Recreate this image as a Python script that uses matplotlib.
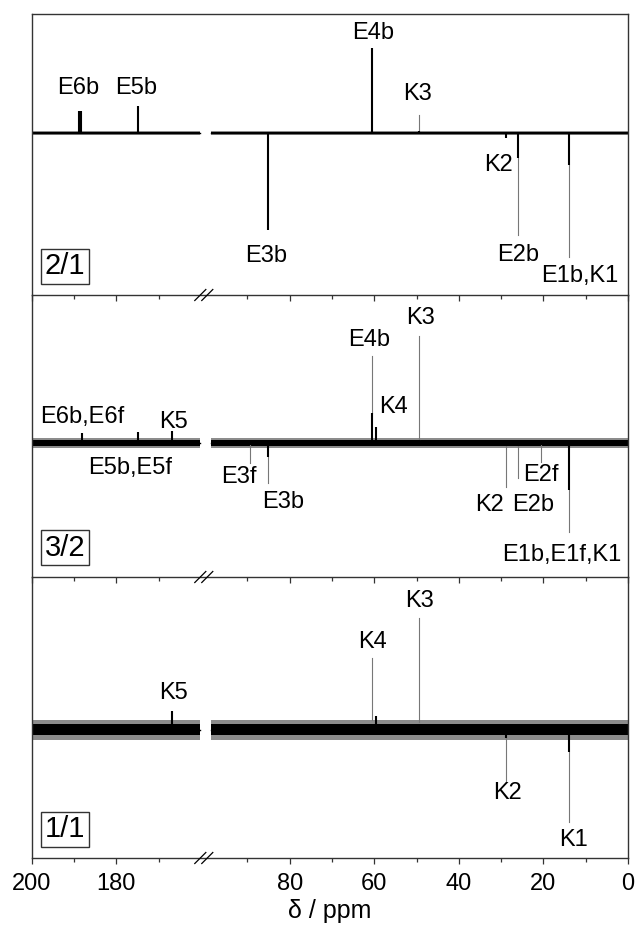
import numpy as np
import matplotlib.pyplot as plt
from matplotlib.ticker import FixedLocator, NullFormatter

plt.rcParams['font.family'] = ['Liberation Sans', 'DejaVu Sans']

# chemical shift axis is broken: 200-160 ppm on the left, 100-0 ppm on the right
left_range = (200.0, 160.2)
right_range = (98.7, 0.0)
major_ticks = [200, 180, 80, 60, 40, 20, 0]
minor_ticks = [190, 170, 90, 70, 50, 30, 10]

# baseline noise (half width of dense band, half width of spikes)
noise_21 = (1.0, 2.0)
noise_32 = (2.8, 5.0)
noise_11 = (5.5, 10.0)

# ---- 2/1 ----
peaks_21_ppm = [188.8, 188.3, 174.8, 85.1, 60.5, 49.4, 28.9, 25.9, 13.9]
peaks_21_int = [22, 22, 27, -97, 85, 2, -5, -25, -32]
leaders_21 = [(49.4, 2, 18), (25.9, -25, -102), (13.9, -32, -124)]
labels_21_text = ['E6b', 'E5b', 'E3b', 'E4b', 'K3', 'K2', 'E2b', 'E1b,K1']
labels_21_ppm = [189.0, 175.2, 85.5, 60.2, 49.8, 30.7, 26.0, 11.3]
labels_21_y = [45, 45, -123, 100, 39, -32, -122, -143]

# ---- 3/2 ----
peaks_32_ppm = [188.1, 174.8, 166.8, 89.4, 85.1, 60.5, 59.5, 49.4, 28.9, 25.9, 20.5, 13.9]
peaks_32_int = [10, 11, 12, -2, -14, 30, 16, 3, -3, -3, -2, -47]
leaders_32 = [(89.4, -2, -20), (85.1, -14, -40), (60.5, 30, 87), (49.4, 3, 107),
              (28.9, -3, -44), (25.9, -3, -35), (20.5, -2, -19), (13.9, -47, -89)]
labels_32_text = ['E6b,E6f', 'E5b,E5f', 'K5', 'E3f', 'E3b', 'E4b', 'K4', 'K3',
                  'K2', 'E2b', 'E2f', 'E1b,E1f,K1']
labels_32_ppm = [188.1, 176.7, 166.5, 91.9, 81.6, 61.2, 55.5, 49.0, 32.8, 22.4, 20.6, 15.7]
labels_32_y = [26, -25, 21, -34, -59, 103, 36, 125, -62, -62, -32, -112]

# ---- 1/1 ----
peaks_11_ppm = [166.8, 59.5, 28.9, 13.9]
peaks_11_int = [19, 14, -8, -22]
leaders_11 = [(60.5, 10, 72), (49.4, 8, 112), (28.9, -8, -52), (13.9, -22, -92)]
labels_11_text = ['K5', 'K4', 'K3', 'K2', 'K1']
labels_11_ppm = [166.5, 60.5, 49.4, 28.6, 13.0]
labels_11_y = [37, 88, 129, -63, -110]


# squeeze out 160-100 ppm, leaving a one-unit gap at the break
def fwd(p):
    p = np.asarray(p, dtype=float)
    return np.where(p >= 130, p, p + 59.0)


def inv(u):
    u = np.asarray(u, dtype=float)
    return np.where(u >= 159.5, u, u - 59.0)


panels = [
    ('2/1', noise_21, peaks_21_ppm, peaks_21_int, leaders_21,
     labels_21_text, labels_21_ppm, labels_21_y, (14, 295, 133)),
    ('3/2', noise_32, peaks_32_ppm, peaks_32_int, leaders_32,
     labels_32_text, labels_32_ppm, labels_32_y, (295, 577, 443)),
    ('1/1', noise_11, peaks_11_ppm, peaks_11_int, leaders_11,
     labels_11_text, labels_11_ppm, labels_11_y, (577, 858, 730)),
]

W, H = 636, 932
fig = plt.figure(figsize=(W / 100, H / 100), dpi=100)
x0, x1 = 31.7, 628.0

for i, (name, noise, pk_x, pk_y, leaders, lt, lx, ly, (top, bot, base)) in enumerate(panels):
    ax = fig.add_axes([x0 / W, 1 - bot / H, (x1 - x0) / W, (bot - top) / H])
    ax.patch.set_visible(False)
    ax.set_xscale('function', functions=(fwd, inv))
    ax.set_xlim(200, 0)
    ax.set_ylim(-(bot - base), base - top)

    # baseline with noise band, drawn for each side of the break
    for seg in (left_range, right_range):
        xs = np.array(seg)
        ax.fill_between(xs, -noise[1], noise[1], color='#8c8c8c', linewidth=0, zorder=1)
        ax.fill_between(xs, -noise[0], noise[0], color='k', linewidth=0, zorder=2)
        ax.plot(xs, [0, 0], color='k', lw=1.0, zorder=2)

    for (px, y0, y1) in leaders:
        ax.plot([px, px], [y0, y1], color='#777777', lw=0.8, zorder=2)
    ax.vlines(pk_x, 0, pk_y, color='k', lw=1.5, zorder=3)

    for t, px, py in zip(lt, lx, ly):
        ax.text(px, py, t, ha='center', va='center', fontsize=17)

    ax.text(0.056, 0.103, name, transform=ax.transAxes, ha='center', va='center',
            fontsize=21,
            bbox=dict(boxstyle='square,pad=0.12', facecolor='white',
                      edgecolor='#333333', linewidth=1.0))

    for s in ax.spines.values():
        s.set_color('#333333')
        s.set_linewidth(1.0)
    if i > 0:
        ax.spines['top'].set_visible(False)

    ax.set_yticks([])
    ax.xaxis.set_major_locator(FixedLocator(major_ticks))
    ax.xaxis.set_minor_locator(FixedLocator(minor_ticks))
    ax.tick_params(axis='x', which='major', direction='out', length=4.5, width=0.9,
                   color='#333333', labelsize=17, pad=6)
    ax.tick_params(axis='x', which='minor', direction='out', length=2.6, width=0.9,
                   color='#333333')
    ax.xaxis.set_minor_formatter(NullFormatter())
    if i < 2:
        ax.tick_params(axis='x', which='major', labelbottom=False)
    else:
        ax.set_xlabel('δ / ppm', fontsize=18, labelpad=3)

    # break marks on the bottom axis line
    for dx in (0.0, 0.0117):
        ax.plot([0.2735 + dx, 0.292 + dx], [-0.0196, 0.0196], transform=ax.transAxes,
                color='k', lw=0.9, clip_on=False, zorder=5)

fig.savefig('out.png', dpi=100)
